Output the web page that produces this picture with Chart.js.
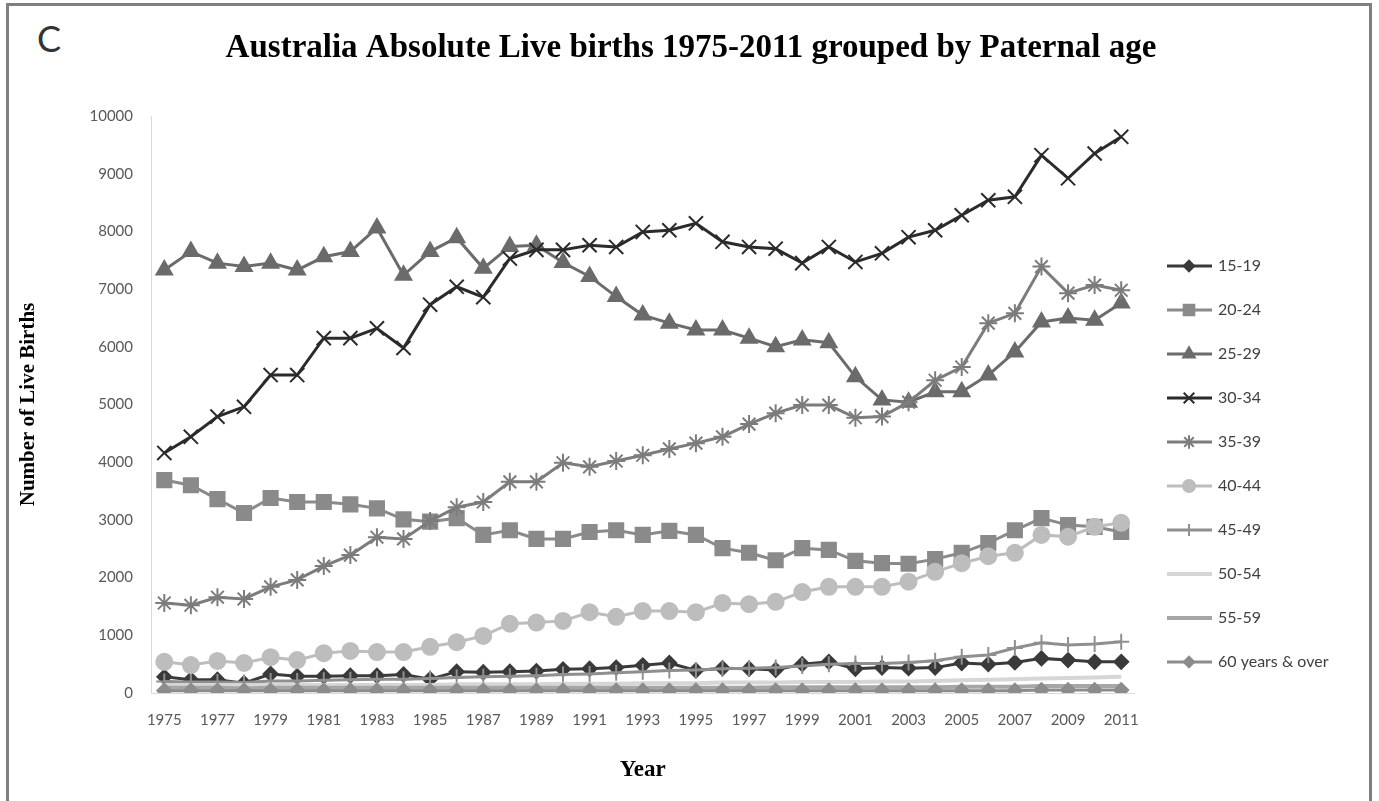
<!DOCTYPE html>
<html>
<head>
<meta charset="utf-8">
<script src="https://cdn.jsdelivr.net/npm/chart.js@4.4.1/dist/chart.umd.min.js"></script>
<style>
    html, body { margin: 0; padding: 0; background: #fff; }
    #wrap { position: relative; width: 1379px; height: 801px; overflow: hidden; }
    #frame { position: absolute; left: 6px; top: 3px; width: 1366px; height: 830px; border: 3px solid #7f7f7f; box-sizing: border-box; }
    #letter { position: absolute; left: 37px; top: 16px; font: 36px "Lato", sans-serif; color: #333; }
    #myChart { position: absolute; left: 0; top: 0; }
</style>
</head>
<body>
<div id="wrap">
    <div id="frame"></div>
    <div id="letter">C</div>
    <canvas id="myChart" width="1379" height="801"></canvas>
</div>
<script>
var years = ['1975', '1976', '1977', '1978', '1979', '1980', '1981', '1982', '1983', '1984',
    '1985', '1986', '1987', '1988', '1989', '1990', '1991', '1992', '1993', '1994',
    '1995', '1996', '1997', '1998', '1999', '2000', '2001', '2002', '2003', '2004',
    '2005', '2006', '2007', '2008', '2009', '2010', '2011'];

var yTicks = [0, 1000, 2000, 3000, 4000, 5000, 6000, 7000, 8000, 9000, 10000];

var age15_19 = [280, 230, 230, 170, 330, 290, 290, 300, 300, 320, 240, 370, 360, 370, 380, 410, 420, 440, 480,
    520, 390, 430, 420, 400, 500, 540, 420, 440, 430, 440, 520, 500, 530, 600, 570, 540, 540];
var age20_24 = [3690, 3600, 3360, 3120, 3380, 3310, 3310, 3270, 3200, 3010, 2970, 3030, 2740, 2820, 2670, 2670, 2790, 2820, 2740,
    2810, 2740, 2510, 2430, 2300, 2510, 2480, 2290, 2250, 2240, 2320, 2430, 2600, 2820, 3030, 2910, 2880, 2790];
var age25_29 = [7330, 7650, 7450, 7390, 7450, 7330, 7560, 7650, 8060, 7240, 7650, 7890, 7360, 7740, 7760, 7460, 7220, 6870, 6550,
    6410, 6290, 6290, 6150, 6000, 6120, 6070, 5480, 5080, 5040, 5220, 5220, 5510, 5910, 6430, 6500, 6460, 6760];
var age30_34 = [4160, 4440, 4790, 4960, 5510, 5510, 6150, 6150, 6320, 5980, 6730, 7040, 6860, 7530, 7680, 7680, 7760, 7730, 7990,
    8020, 8140, 7820, 7730, 7700, 7450, 7730, 7470, 7620, 7900, 8020, 8280, 8540, 8600, 9320, 8920, 9350, 9640];
var age35_39 = [1560, 1520, 1660, 1630, 1840, 1960, 2200, 2390, 2700, 2670, 2980, 3220, 3310, 3660, 3660, 3990, 3920, 4020, 4120,
    4230, 4330, 4440, 4660, 4850, 4990, 4990, 4770, 4790, 5040, 5420, 5650, 6410, 6580, 7390, 6930, 7070, 6980];
var age40_44 = [540, 485, 555, 520, 620, 570, 690, 730, 710, 710, 800, 880, 990, 1200, 1220, 1250, 1400, 1320, 1420,
    1420, 1400, 1560, 1540, 1580, 1750, 1840, 1840, 1840, 1930, 2100, 2250, 2370, 2430, 2740, 2710, 2880, 2950];
var age45_49 = [200, 190, 190, 180, 210, 210, 220, 230, 240, 240, 250, 270, 280, 290, 300, 320, 330, 350, 370,
    390, 400, 420, 430, 440, 470, 500, 510, 510, 530, 560, 630, 660, 780, 870, 830, 850, 890];
var age50_54 = [140, 140, 140, 140, 140, 140, 140, 140, 140, 140, 140, 150, 150, 150, 150, 160, 160, 160, 170,
    170, 170, 180, 180, 180, 190, 190, 190, 200, 200, 210, 220, 230, 240, 250, 260, 270, 280];
var age55_59 = [90, 90, 90, 80, 90, 90, 90, 90, 90, 90, 90, 90, 90, 90, 90, 90, 90, 90, 90,
    90, 90, 90, 90, 100, 100, 100, 100, 100, 100, 100, 110, 110, 110, 120, 120, 120, 120];
var age60plus = [40, 40, 40, 40, 40, 40, 40, 40, 40, 40, 40, 40, 40, 40, 40, 40, 40, 40, 40,
    40, 40, 40, 40, 40, 40, 40, 40, 40, 40, 40, 40, 40, 40, 50, 50, 50, 50];

var chartTitle = 'Australia Absolute Live births 1975-2011 grouped by Paternal age';

function series(label, data, color, style, radius, width) {
    return {
        label: label,
        data: data,
        borderColor: color,
        backgroundColor: color,
        pointBackgroundColor: color,
        pointBorderColor: color,
        pointStyle: style || false,
        pointRadius: style ? radius : 0,
        pointBorderWidth: 2,
        borderWidth: width || 3,
        tension: 0,
        fill: false
    };
}

var datasets = [
    series('15-19', age15_19, '#3a3a3a', 'rectRot', 7),
    series('20-24', age20_24, '#8a8a8a', 'rect', 10),
    series('25-29', age25_29, '#6b6b6b', 'triangle', 9),
    series('30-34', age30_34, '#2b2b2b', 'crossRot', 10),
    series('35-39', age35_39, '#7c7c7c', 'star', 9),
    series('40-44', age40_44, '#bdbdbd', 'circle', 8),
    series('45-49', age45_49, '#8f8f8f', 'cross', 8),
    series('50-54', age50_54, '#d6d6d6', null, 0, 4),
    series('55-59', age55_59, '#a6a6a6', null, 0, 4),
    series('60 years & over', age60plus, '#8c8c8c', 'rectRot', 7)
];
// excel draws later series on top
datasets.forEach(function (ds, i) { ds.order = datasets.length - i; });

// title centred on the whole picture, not on the plot
var topTitle = {
    id: 'topTitle',
    afterDraw: function (chart) {
        var c = chart.ctx;
        c.save();
        c.fillStyle = '#000';
        c.font = 'bold 33px "Liberation Serif"';
        c.textAlign = 'center';
        c.textBaseline = 'middle';
        c.fillText(chartTitle, 691, 48);
        c.restore();
    }
};

var sideLegend = {
    id: 'sideLegend',
    afterDraw: function (chart) {
        var ctx = chart.ctx;
        chart.data.datasets.forEach(function (ds, i) {
            var y = 266 + i * 44;
            ctx.save();
            ctx.strokeStyle = ds.borderColor;
            ctx.lineWidth = ds.borderWidth;
            ctx.beginPath();
            ctx.moveTo(1167, y);
            ctx.lineTo(1212, y);
            ctx.stroke();
            if (ds.pointStyle && Chart.helpers && Chart.helpers.drawPoint) {
                ctx.fillStyle = ds.pointBackgroundColor;
                ctx.strokeStyle = ds.pointBorderColor;
                ctx.lineWidth = ds.pointBorderWidth;
                Chart.helpers.drawPoint(ctx, {
                    pointStyle: ds.pointStyle,
                    radius: ds.pointRadius * 0.75,
                    rotation: 0,
                    borderWidth: ds.pointBorderWidth
                }, 1189, y);
            }
            ctx.fillStyle = '#404040';
            ctx.font = '16px Lato';
            ctx.textBaseline = 'middle';
            ctx.textAlign = 'left';
            ctx.fillText(ds.label, 1218, y);
            ctx.restore();
        });
    }
};

var ctx = document.getElementById('myChart');
var myChart = new Chart(ctx, {
    type: 'line',
    data: {
        labels: years,
        datasets: datasets
    },
    plugins: [topTitle, sideLegend],
    options: {
        responsive: false,
        animation: false,
        devicePixelRatio: 1,
        layout: {
            padding: { left: 10, right: 244.5, top: 116, bottom: 10 }
        },
        plugins: {
            legend: { display: false },
            tooltip: { enabled: false },
            title: { display: false }
        },
        scales: {
            x: {
                offset: true,
                grid: { display: false, drawTicks: false },
                border: { display: true, color: '#d9d9d9', width: 1 },
                ticks: {
                    autoSkip: false,
                    maxRotation: 0,
                    minRotation: 0,
                    padding: 18,
                    color: '#595959',
                    font: { family: 'Lato', size: 15 },
                    callback: function (value, index) {
                        return index % 2 === 0 ? years[index] : '';
                    }
                },
                title: {
                    display: true,
                    text: 'Year',
                    color: '#000',
                    font: { family: 'Liberation Serif', size: 23, weight: 'bold' },
                    padding: { top: 0, bottom: 7 }
                },
                afterFit: function (scale) { scale.height = 98; }
            },
            y: {
                min: yTicks[0],
                max: yTicks[yTicks.length - 1],
                grid: { display: false, drawTicks: false },
                border: { display: true, color: '#d9d9d9', width: 1 },
                afterBuildTicks: function (scale) {
                    scale.ticks = yTicks.map(function (v) { return { value: v }; });
                },
                ticks: {
                    padding: 18,
                    color: '#595959',
                    font: { family: 'Lato', size: 15 },
                    callback: function (value) { return String(value); }
                },
                title: {
                    display: true,
                    text: 'Number of Live Births',
                    color: '#000',
                    font: { family: 'Liberation Serif', size: 21, weight: 'bold' },
                    padding: { top: 6, bottom: 0 }
                },
                afterFit: function (scale) { scale.width = 141; }
            }
        }
    }
});
</script>
</body>
</html>
